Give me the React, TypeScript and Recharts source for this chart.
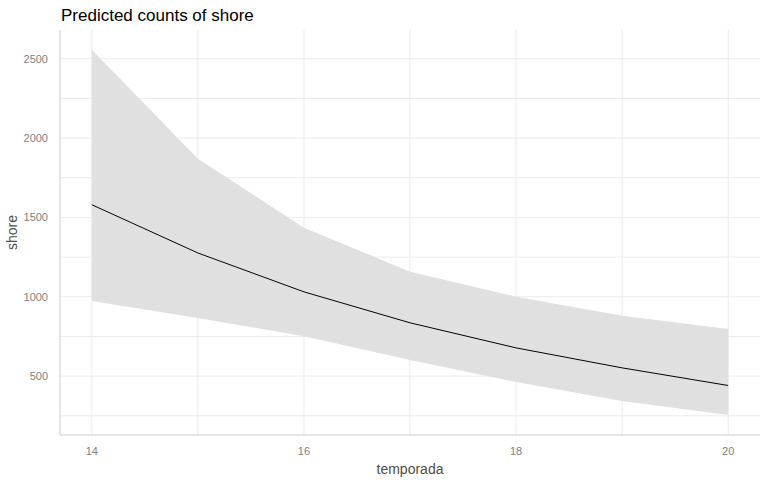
import React from "react";
import {
  ComposedChart,
  Area,
  Line,
  XAxis,
  YAxis,
  CartesianGrid,
  Label,
} from "recharts";

const seasons = [14, 15, 16, 17, 18, 19, 20];
const predicted = [1580, 1276, 1031, 836, 678, 552, 441];
const upper = [2557, 1870, 1435, 1158, 1000, 880, 797];
const lower = [973, 866, 752, 601, 463, 343, 255];

const xTicks = [14, 16, 18, 20];
const yTicks = [500, 1000, 1500, 2000, 2500];
const gridY = [250, 500, 750, 1000, 1250, 1500, 1750, 2000, 2250, 2500];
const gridX = [14, 15, 16, 17, 18, 19, 20];

const data = seasons.map((s, i) => ({
  season: s,
  pred: predicted[i],
  band: [lower[i], upper[i]],
}));

const App: React.FC = () => {
  return (
    <div
      style={{
        position: "absolute",
        left: 0,
        top: 0,
        width: 768,
        height: 480,
        background: "#fff",
        fontFamily: "Liberation Sans, Arial, sans-serif",
      }}
    >
      <div
        style={{
          position: "absolute",
          left: 61,
          top: 6,
          fontSize: 17,
          color: "#000",
        }}
      >
        Predicted counts of shore
      </div>
      <ComposedChart
        width={768}
        height={480}
        data={data}
        margin={{ top: 30, right: 8, bottom: 0, left: 0 }}
      >
        <CartesianGrid
          stroke="#ebebeb"
          horizontalValues={gridY}
          verticalValues={gridX}
        />
        <XAxis
          dataKey="season"
          type="number"
          domain={[13.7, 20.3]}
          ticks={xTicks}
          allowDataOverflow
          height={45}
          tickLine={false}
          axisLine={{ stroke: "#cccccc" }}
          tick={{ fill: "#7f7f7f", fontSize: 11 }}
          tickMargin={6}
        >
          <Label
            value="temporada"
            position="insideBottom"
            offset={6}
            fill="#4d4d4d"
            fontSize={14}
          />
        </XAxis>
        <YAxis
          type="number"
          domain={[129, 2681]}
          ticks={yTicks}
          allowDataOverflow
          width={60}
          tickLine={false}
          axisLine={{ stroke: "#cccccc" }}
          tick={{ fill: "#7f7f7f", fontSize: 11 }}
          tickMargin={6}
        >
          <Label
            value="shore"
            angle={-90}
            position="insideLeft"
            offset={12}
            style={{ textAnchor: "middle" }}
            fill="#4d4d4d"
            fontSize={14}
          />
        </YAxis>
        <Area
          dataKey="band"
          type="linear"
          stroke="none"
          fill="#e0e0e0"
          fillOpacity={1}
          isAnimationActive={false}
        />
        <Line
          dataKey="pred"
          type="linear"
          stroke="#000"
          strokeWidth={1}
          dot={false}
          isAnimationActive={false}
        />
      </ComposedChart>
    </div>
  );
};

export default App;
